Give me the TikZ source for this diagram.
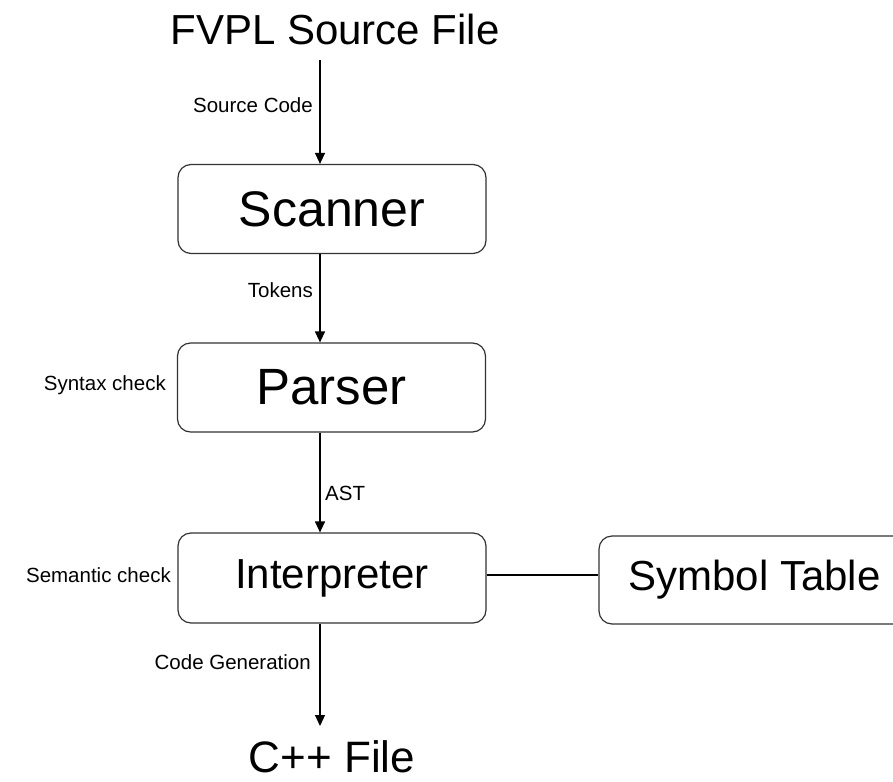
\documentclass[tikz,border=0pt]{standalone}
\usepackage{fontspec}
\setmainfont{Liberation Sans}
\usetikzlibrary{arrows.meta}
\begin{document}
\begin{tikzpicture}[x=1pt,y=-1pt,
  stage/.style={draw=black!80, line width=1.2pt, rounded corners=13pt,
    minimum width=308pt, minimum height=89pt, inner sep=0pt},
  big/.style={font=\fontsize{42}{48}\selectfont},
  small/.style={font=\fontsize{20.5}{23}\selectfont, inner sep=0pt},
  flow/.style={line width=1.2pt, -{Triangle[length=11pt,width=10pt]}},
  link/.style={line width=1.1pt}]
  \clip (0,0) rectangle (893,781);
  \useasboundingbox (0,0) rectangle (893,781);

  % x position shared by the vertical flow arrows
  \coordinate (ax) at (320,0);

  % endpoints of the pipeline
  \node[big, anchor=base, inner sep=0pt] (src) at (335,45) {FVPL Source File};
  \node[big, anchor=base, inner sep=0pt, font=\fontsize{44}{50}\selectfont] (out) at (332,772) {C++ File};

  % compiler stages
  \node[stage, font=\fontsize{50}{56}\selectfont] (scanner) at (332,209) {Scanner};
  \node[stage, font=\fontsize{51}{56}\selectfont] (parser) at (331.5,387.5) {Parser};
  \node[stage, big, minimum height=90pt] (interp) at (332,578) {Interpreter};
  \node[stage, big, minimum width=311pt, minimum height=88pt] (symtab) at (754.5,580) {Symbol Table};

  % flow between stages
  \draw[flow] (ax |- 0,60) coordinate (srcout) -- (scanner.north -| ax);
  \draw[flow] (scanner.south -| ax) -- (parser.north -| ax);
  \draw[flow] (parser.south -| ax) -- (interp.north -| ax);
  \draw[flow] (interp.south -| ax) -- (ax |- 0,726) coordinate (outin);
  \draw[link] (interp.east |- 0,575) -- (symtab.west |- 0,575);

  % edge and stage annotations
  \node[small, anchor=base east] (lsrc) at (313,113) {Source Code};
  \node[small, anchor=base east] (ltok) at (313,297) {Tokens};
  \node[small, anchor=base west] (last) at (325,500) {AST};
  \node[small, anchor=base east] (lgen) at (311,669) {Code Generation};
  \node[small, anchor=base east] (lsyn) at (166,390) {Syntax check};
  \node[small, anchor=base east] (lsem) at (171,582) {Semantic check};
\end{tikzpicture}
\end{document}
